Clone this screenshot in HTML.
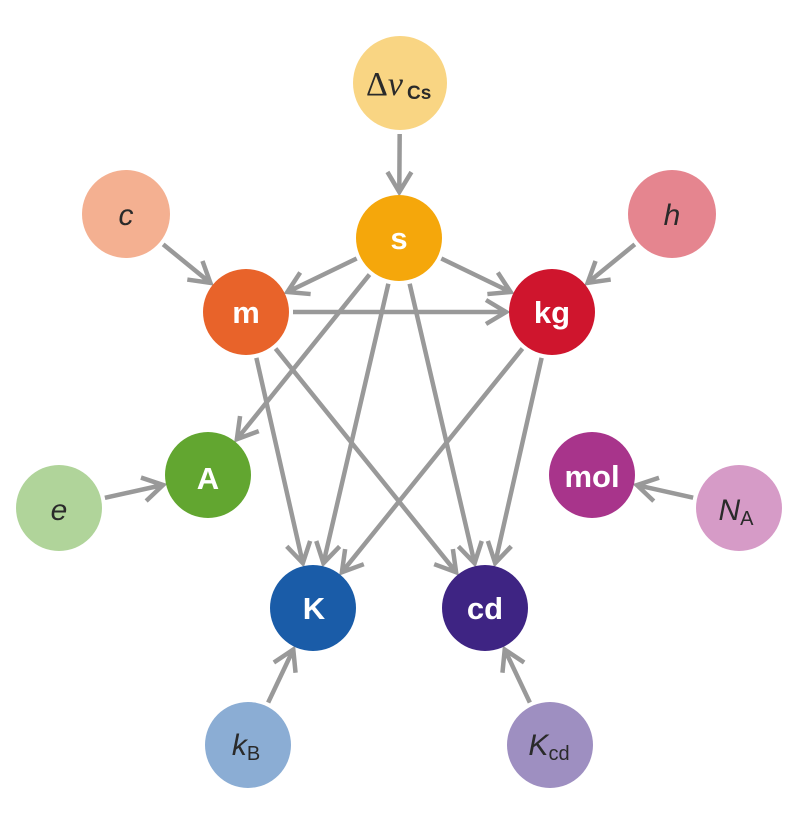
<!DOCTYPE html>
<html><head><meta charset="utf-8"><style>
html,body{margin:0;padding:0;background:#fff;}
svg{display:block;}
text{font-family:"Liberation Sans",sans-serif;}
</style></head><body>
<svg id="g" width="800" height="839" viewBox="0 0 800 839" xmlns="http://www.w3.org/2000/svg">
<g id="edges" stroke="#999" stroke-width="4.5" fill="none" stroke-linecap="butt"></g>
<g id="nodes"></g>
<g font-weight="bold" fill="#fff" font-size="31" text-anchor="middle">
<text x="399" y="249">s</text>
<text x="246" y="323">m</text>
<text x="552" y="323">kg</text>
<text x="208" y="489">A</text>
<text x="592" y="487">mol</text>
<text x="314" y="619">K</text>
<text x="485" y="619">cd</text>
</g>
<g fill="#2a2a2a" font-size="30" text-anchor="middle">
<text x="366" y="95" text-anchor="start" font-size="34"><tspan font-family="Liberation Serif,serif">Δ</tspan><tspan font-family="Liberation Serif,serif" font-style="italic">ν</tspan><tspan font-size="19" font-weight="bold" dy="4" dx="4">Cs</tspan></text>
<text x="126" y="225" font-style="italic">c</text>
<text x="672" y="225" font-style="italic">h</text>
<text x="59" y="520" font-style="italic">e</text>
<text x="736" y="520"><tspan font-style="italic">N</tspan><tspan font-size="20" dy="5">A</tspan></text>
<text x="246" y="755"><tspan font-style="italic">k</tspan><tspan font-size="20" dy="5">B</tspan></text>
<text x="549" y="755"><tspan font-style="italic">K</tspan><tspan font-size="20" dy="5">cd</tspan></text>
</g>
</svg>
<script>
var N={
dv:[400,83,47,"#f9d583"],s:[399,238,43,"#f5a70b"],c:[126,214,44,"#f4b091"],h:[672,214,44,"#e5858f"],
m:[246,312,43,"#e8632a"],kg:[552,312,43,"#cf152d"],A:[208,475,43,"#62a630"],e:[59,508,43,"#b0d49a"],
mol:[592,475,43,"#a8348b"],NA:[739,508,43,"#d69bc7"],K:[313,608,43,"#1a5ca8"],cd:[485,608,43,"#3e2483"],
kB:[248,745,43,"#8badd4"],Kcd:[550,745,43,"#9e8fc1"]};
var E=[["dv","s"],["c","m"],["h","kg"],["s","m"],["s","kg"],["m","kg"],["s","A"],["s","K"],["s","cd"],
["m","K"],["m","cd"],["kg","K"],["kg","cd"],["e","A"],["NA","mol"],["kB","K"],["Kcd","cd"]];
var ns="http://www.w3.org/2000/svg",eg=document.getElementById("edges"),ng=document.getElementById("nodes");
for(var k in N){var n=N[k],c=document.createElementNS(ns,"circle");c.setAttribute("cx",n[0]);c.setAttribute("cy",n[1]);c.setAttribute("r",n[2]);c.setAttribute("fill",n[3]);ng.appendChild(c);}
E.forEach(function(e){var a=N[e[0]],b=N[e[1]],dx=b[0]-a[0],dy=b[1]-a[1],L=Math.hypot(dx,dy),ux=dx/L,uy=dy/L;
var x1=a[0]+ux*(a[2]+4),y1=a[1]+uy*(a[2]+4),x2=b[0]-ux*(b[2]+3),y2=b[1]-uy*(b[2]+3);
var p=document.createElementNS(ns,"path"),h=20,w=12;
var bx=x2-ux*h,by=y2-uy*h;
p.setAttribute("d","M"+x1+" "+y1+"L"+(x2-ux*2)+" "+(y2-uy*2)+"M"+(bx-uy*w)+" "+(by+ux*w)+"L"+x2+" "+y2+"L"+(bx+uy*w)+" "+(by-ux*w));
eg.appendChild(p);});
</script>
</body></html>
